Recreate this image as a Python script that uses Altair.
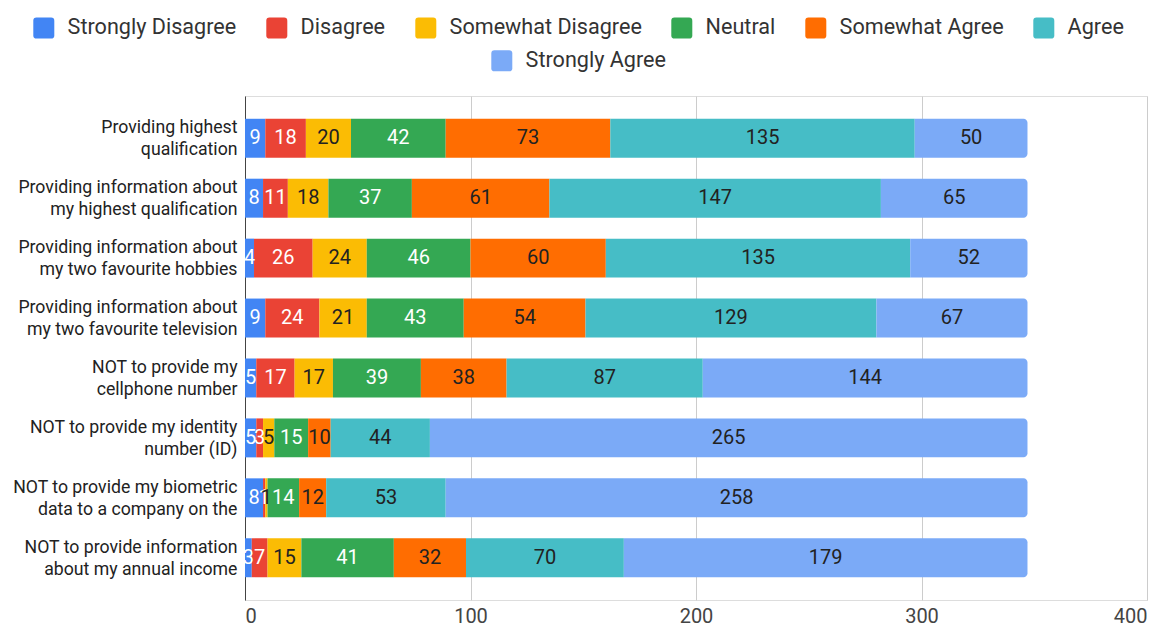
import altair as alt
import pandas as pd

# Survey statements (y categories); "\n" marks the line break in the axis label
items = [
    "Providing highest\nqualification",
    "Providing information about\nmy highest qualification",
    "Providing information about\nmy two favourite hobbies",
    "Providing information about\nmy two favourite television",
    "NOT to provide my\ncellphone number",
    "NOT to provide my identity\nnumber (ID)",
    "NOT to provide my biometric\ndata to a company on the",
    "NOT to provide information\nabout my annual income",
]

responses = [
    "Strongly Disagree", "Disagree", "Somewhat Disagree", "Neutral",
    "Somewhat Agree", "Agree", "Strongly Agree",
]
colors = ["#4285F4", "#EA4335", "#FBBC04", "#34A853", "#FF6D01", "#46BDC6", "#7BAAF7"]
label_colors = ["#ffffff", "#ffffff", "#222222", "#ffffff", "#222222", "#222222", "#222222"]

strongly_disagree = [9, 8, 4, 9, 5, 5, 8, 3]
disagree = [18, 11, 26, 24, 17, 3, 1, 7]
somewhat_disagree = [20, 18, 24, 21, 17, 5, 1, 15]
neutral = [42, 37, 46, 43, 39, 15, 14, 41]
somewhat_agree = [73, 61, 60, 54, 38, 10, 12, 32]
agree = [135, 147, 135, 129, 87, 44, 53, 70]
strongly_agree = [50, 65, 52, 67, 144, 265, 258, 179]

series = [strongly_disagree, disagree, somewhat_disagree, neutral,
          somewhat_agree, agree, strongly_agree]

x_ticks = [0, 100, 200, 300, 400]

rows = []
for k, (resp, vals) in enumerate(zip(responses, series)):
    for item, v in zip(items, vals):
        rows.append({"item": item, "resp": resp, "order": k, "count": v,
                     "lc": label_colors[k]})
df = pd.DataFrame(rows)

FONT = "Roboto"
rounded_square = ("M-0.7,-1H0.7Q1,-1 1,-0.7V0.7Q1,1 0.7,1H-0.7Q-1,1 -1,0.7"
                  "V-0.7Q-1,-1 -0.7,-1Z")

x_scale = alt.Scale(domain=[0, 400], nice=False, zero=True)
x_axis = alt.Axis(values=x_ticks, title=None, grid=True, gridColor="#cccccc",
                  domain=False, ticks=False, labelFont=FONT, labelFontSize=20,
                  labelColor="#444444", labelPadding=6)
y_scale = alt.Scale(paddingInner=0.35, paddingOuter=0.38)
y_axis = alt.Axis(title=None, domain=True, domainColor="#444444", ticks=False,
                  grid=False, labelFont=FONT, labelFontSize=17.7,
                  labelColor="#222222", labelPadding=8, labelLimit=400,
                  labelLineHeight=22, labelOffset=-10,
                  labelExpr="split(datum.label, '\\n')")

legend_common = dict(
    title=None, orient="none", direction="horizontal",
    symbolType=rounded_square, symbolSize=441, symbolStrokeWidth=0,
    labelFont=FONT, labelFontSize=21.6, labelColor="#333333", labelLimit=400,
    labelOffset=13, columnPadding=29, padding=0,
)

base = alt.Chart(df).transform_stack(
    stack="count", groupby=["item"], sort=[alt.SortField("order")],
    as_=["x0", "x1"],
).transform_calculate(mid="(datum.x0 + datum.x1) / 2")

y_enc = alt.Y("item:N", sort=items, scale=y_scale, axis=y_axis)

bars_main = base.transform_filter(
    alt.datum.resp != "Strongly Agree"
).mark_bar().encode(
    x=alt.X("x0:Q", scale=x_scale, axis=x_axis),
    x2="x1:Q",
    y=y_enc,
    color=alt.Color(
        "resp:N",
        scale=alt.Scale(domain=responses[:6], range=colors[:6]),
        legend=alt.Legend(values=responses[:6], legendX=-212, legendY=-79,
                          **legend_common),
    ),
)

bars_end = base.transform_filter(
    alt.datum.resp == "Strongly Agree"
).mark_bar(cornerRadiusTopRight=4, cornerRadiusBottomRight=4).encode(
    x=alt.X("x0:Q", scale=x_scale, axis=x_axis),
    x2="x1:Q",
    y=y_enc,
    color=alt.Color(
        "resp:N",
        scale=alt.Scale(domain=responses[6:], range=colors[6:]),
        legend=alt.Legend(values=responses[6:], legendX=246, legendY=-46,
                          **legend_common),
    ),
)

labels = base.mark_text(font=FONT, fontSize=20, baseline="middle",
                        align="center").encode(
    x=alt.X("mid:Q", scale=x_scale, axis=x_axis),
    y=y_enc,
    text="count:Q",
    color=alt.Color("lc:N", scale=None, legend=None),
)

chart = alt.layer(bars_main, bars_end, labels).resolve_scale(
    color="independent"
).properties(
    width=902, height=504,
    autosize=alt.AutoSizeParams(type="none"),
    padding={"left": 245, "top": 96, "right": 27, "bottom": 32},
).configure_view(stroke=None, strokeWidth=0).configure(background="white")

chart.save("out.html", embed_options={"renderer": "svg", "actions": False})
